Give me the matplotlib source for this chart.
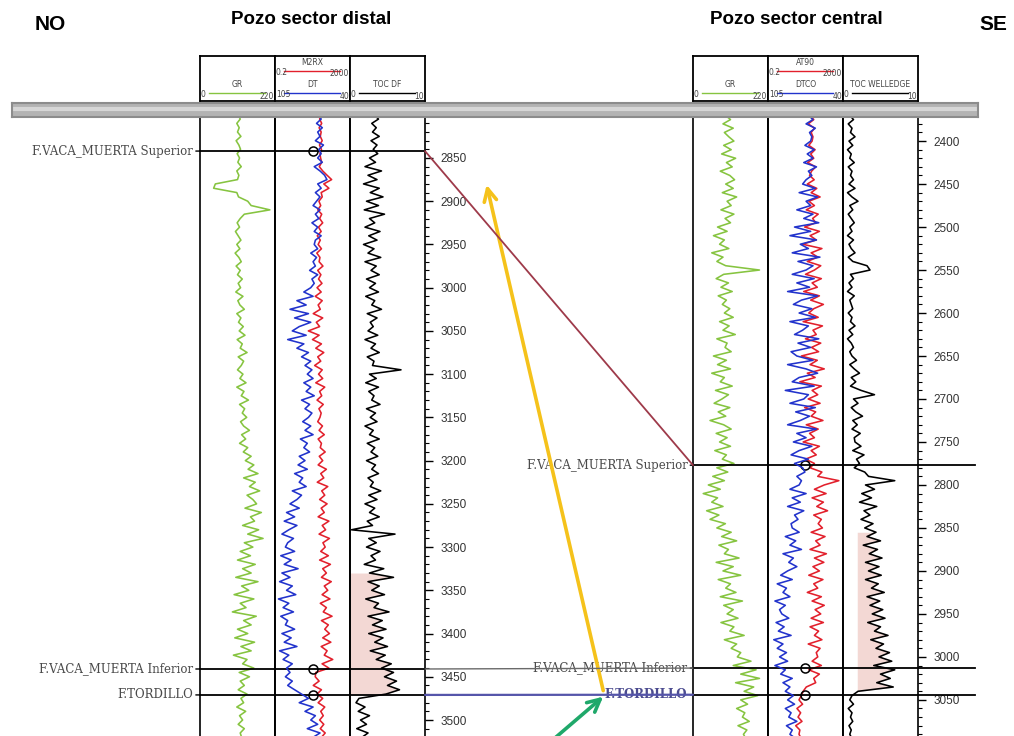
import numpy as np
import matplotlib
matplotlib.use("Agg")
import matplotlib.pyplot as plt
from matplotlib.patches import ConnectionPatch
from matplotlib.ticker import MultipleLocator

# ---- data (5 m sampling) ----
LEFT_TOP = 2800      # first sample depth, distal well
RIGHT_TOP = 2370     # first sample depth, central well
STEP = 5

left_gr = [112, 118, 108, 115, 110, 120, 106, 114, 119, 109,
           116, 111, 121, 108, 114, 110, 45, 40, 108, 113,
           140, 150, 205, 130, 118, 109, 116, 104, 112, 120,
           108, 117, 103, 114, 121, 106, 118, 110, 124, 112,
           119, 105, 126, 111, 117, 130, 108, 120, 113, 127,
           115, 132, 109, 124, 118, 138, 112, 128, 121, 110,
           126, 117, 135, 108, 129, 121, 142, 116, 131, 124,
           137, 119, 128, 145, 122, 134, 116, 140, 127, 150,
           133, 158, 141, 170, 128, 162, 145, 175, 138, 155,
           166, 132, 180, 148, 160, 125, 172, 140, 185, 130,
           155, 118, 148, 110, 162, 125, 150, 105, 170, 122,
           143, 100, 158, 118, 135, 95, 165, 128, 150, 110,
           140, 102, 160, 120, 150, 98, 138, 125, 158, 115,
           145, 118, 130, 112, 138, 120, 128, 108, 134, 116,
           125, 112, 130, 118, 122]

left_res = [55, 48, 62, 45, 58, 52, 66, 47, 60, 50,
            54, 62, 46, 70, 120, 210, 80, 150, 58, 66,
            44, 55, 38, 62, 48, 70, 42, 58, 36, 52,
            40, 60, 34, 50, 45, 72, 38, 56, 42, 64,
            35, 58, 28, 66, 40, 52, 22, 70, 32, 48,
            12, 45, 20, 60, 30, 80, 38, 55, 26, 66,
            42, 70, 30, 90, 48, 62, 35, 75, 44, 58,
            50, 38, 68, 45, 85, 40, 60, 52, 95, 46,
            70, 40, 110, 55, 80, 36, 130, 62, 90, 48,
            120, 58, 85, 40, 150, 66, 100, 45, 160, 72,
            95, 55, 140, 48, 180, 70, 110, 60, 200, 85,
            130, 65, 170, 52, 110, 75, 220, 60, 140, 90,
            160, 70, 190, 58, 120, 85, 240, 65, 150, 30,
            28, 45, 22, 60, 35, 70, 40, 90, 55, 75,
            48, 80, 52, 95, 60]

left_dt = [67, 65, 69, 64, 68, 66, 70, 63, 67, 65,
           68, 64, 71, 66, 62, 60, 68, 65, 70, 66,
           69, 72, 66, 70, 67, 73, 68, 71, 65, 70,
           71, 68, 74, 69, 72, 70, 75, 68, 73, 71,
           74, 80, 72, 86, 78, 92, 76, 88, 74, 84,
           90, 78, 94, 80, 86, 76, 82, 74, 79, 73,
           77, 72, 80, 74, 78, 71, 82, 75, 79, 73,
           76, 81, 74, 79, 72, 83, 77, 80, 75, 84,
           79, 85, 77, 88, 81, 84, 78, 90, 82, 86,
           92, 84, 95, 88, 97, 86, 93, 99, 89, 94,
           96, 88, 100, 91, 97, 85, 99, 92, 101, 90,
           95, 87, 102, 93, 98, 89, 100, 94, 96, 88,
           99, 91, 97, 86, 101, 93, 98, 90, 95, 92,
           96, 90, 94, 88, 82, 76, 84, 72, 79, 70,
           74, 68, 77, 66, 72]

left_toc = [3.2, 3.8, 2.9, 3.5, 3.0, 3.9, 2.8, 3.6, 3.1, 3.7,
            2.6, 3.4, 2.0, 4.2, 2.4, 3.6, 1.8, 3.9, 2.7, 4.4,
            2.2, 3.8, 1.9, 4.6, 2.6, 3.3, 2.0, 4.0, 2.5, 3.6,
            1.8, 3.2, 2.4, 4.1, 2.0, 3.5, 2.8, 3.9, 2.2, 3.4,
            2.6, 3.8, 2.1, 3.3, 2.9, 4.2, 2.3, 3.6, 2.7, 3.1,
            2.4, 3.7, 2.0, 3.4, 2.8, 3.9, 2.3, 3.2, 3.0, 6.8,
            2.6, 3.5, 2.1, 3.8, 2.5, 3.2, 2.9, 4.0, 2.2, 3.4,
            2.7, 3.6, 2.0, 3.1, 2.6, 3.9, 2.3, 3.3, 2.8, 3.7,
            2.2, 3.4, 2.9, 3.8, 2.4, 3.1, 2.7, 4.1, 2.5, 3.6,
            2.0, 3.3, 2.6, 3.9, 2.3, 3.0, 0.2, 6.0, 2.5, 3.5,
            2.2, 4.0, 2.8, 3.4, 1.9, 4.5, 2.6, 5.8, 2.4, 3.9,
            2.9, 4.6, 2.1, 3.8, 3.2, 5.2, 2.4, 4.3, 3.0, 4.8,
            2.5, 4.4, 3.3, 5.0, 2.7, 4.7, 3.5, 5.5, 4.2, 5.8,
            4.6, 6.2, 5.0, 6.6, 4.8, 1.2, 0.8, 2.0, 1.1, 2.6,
            1.4, 2.2, 0.9, 2.4, 1.6]

right_gr = [95, 110, 88, 118, 92, 105,
            120, 90, 112, 84, 125, 98, 115, 80, 108, 122,
            96, 118, 86, 128, 100, 112, 82, 120, 94, 110,
            72, 100, 60, 92, 78, 105, 55, 88, 70, 96,
            195, 90, 68, 104, 82, 115, 74, 98, 86, 108,
            92, 118, 78, 106, 88, 124, 70, 100, 94, 112,
            60, 98, 72, 110, 55, 92, 80, 115, 66, 104,
            85, 62, 108, 74, 96, 50, 90, 112, 68, 100,
            78, 110, 64, 98, 86, 120, 70, 102, 58, 92,
            45, 80, 30, 72, 55, 88, 40, 76, 50, 95,
            70, 112, 84, 128, 76, 104, 92, 135, 68, 118,
            88, 140, 74, 110, 96, 126, 80, 145, 90, 118,
            100, 132, 82, 120, 108, 150, 92, 128, 112, 140,
            130, 170, 118, 185, 140, 195, 125, 178, 150, 190,
            140, 160, 128, 152, 145, 165, 132, 158, 148, 155]

right_res = [35, 55, 28, 60, 40, 50,
             45, 30, 65, 38, 55, 26, 70, 42, 33, 58,
             25, 80, 40, 120, 30, 60, 22, 95, 48, 70,
             18, 110, 35, 75, 14, 150, 40, 90, 25, 130,
             60, 20, 140, 45, 85, 16, 110, 38, 180, 55,
             30, 95, 15, 160, 50, 75, 20, 130, 42, 100,
             12, 85, 35, 200, 25, 65, 10, 140, 45, 90,
             28, 120, 18, 70, 40, 170, 22, 95, 33, 60,
             15, 110, 40, 75, 20, 60, 35, 150, 90, 1200,
             200, 60, 250, 45, 180, 80, 300, 55, 140, 95,
             160, 40, 220, 70, 120, 35, 260, 60, 190, 50,
             110, 30, 170, 55, 90, 25, 140, 45, 200, 65,
             130, 40, 180, 35, 100, 60, 150, 28, 120, 75,
             90, 45, 140, 30, 110, 55, 70, 22, 15, 12,
             9, 14, 7, 11, 8, 13, 6, 10, 9, 12]

right_dt = [70, 66, 72, 64, 69, 67,
            68, 73, 65, 71, 66, 74, 63, 70, 67, 72,
            75, 64, 78, 62, 72, 68, 80, 66, 74, 61,
            82, 68, 86, 63, 77, 70, 84, 60, 79, 66,
            72, 84, 65, 80, 69, 88, 62, 76, 83, 67,
            78, 64, 86, 70, 75, 82, 61, 79, 68, 85,
            80, 66, 88, 72, 62, 78, 84, 65, 90, 70,
            74, 86, 64, 81, 69, 77, 88, 63, 80, 72,
            83, 67, 78, 85, 70, 82, 75, 73, 80, 76,
            78, 86, 72, 84, 77, 88, 74, 82, 79, 85,
            84, 78, 90, 81, 86, 76, 92, 83, 87, 80,
            88, 94, 84, 97, 89, 92, 86, 99, 90, 95,
            93, 87, 98, 91, 96, 85, 100, 92, 97, 89,
            95, 88, 99, 90, 94, 84, 92, 86, 90, 83,
            88, 82, 90, 85, 87, 80, 89, 84, 86, 81]

right_toc = [0.9, 1.4, 0.7, 1.2, 1.0, 1.6,
             0.8, 1.3, 0.6, 1.1, 0.9, 1.5, 0.7, 1.2, 1.0, 1.4,
             0.8, 1.6, 0.6, 1.2, 2.0, 0.9, 1.3, 0.7, 1.1, 1.5,
             0.9, 1.2, 0.6, 1.4, 0.8, 1.1, 1.6, 0.7, 1.3, 3.2,
             3.6, 1.0, 1.4, 0.8, 1.2, 0.6, 1.5, 0.9, 1.1, 1.3,
             0.7, 1.2, 1.0, 1.6, 0.8, 1.3, 0.6, 1.1, 1.4, 0.9,
             1.2, 1.8, 0.9, 1.5, 2.2, 1.1, 1.7, 1.0, 2.4, 4.2,
             1.4, 2.0, 1.1, 1.7, 2.6, 1.3, 1.9, 1.2, 2.3, 1.5,
             1.6, 2.4, 1.3, 2.8, 1.8, 2.2, 1.5, 2.9, 3.4, 6.9,
             3.0, 4.2, 2.5, 3.8, 2.2, 4.5, 2.8, 3.6, 2.4, 4.0,
             2.9, 4.4, 3.2, 5.0, 2.7, 4.6, 3.5, 5.2, 3.0, 4.8,
             3.4, 5.1, 3.0, 4.7, 3.8, 5.5, 3.2, 4.9, 3.6, 5.3,
             3.9, 5.6, 3.3, 5.0, 4.2, 6.0, 3.7, 5.4, 4.4, 6.2,
             4.8, 6.5, 4.1, 6.9, 5.0, 6.3, 4.5, 6.7, 2.0, 1.2,
             0.9, 1.4, 0.7, 1.2, 1.0, 1.3, 0.8, 1.1, 0.9, 1.2]

# formation tops (m)
tops_names = ["F.VACA_MUERTA Superior", "F.VACA_MUERTA Inferior", "F.TORDILLO"]
left_tops = [2842, 3441, 3471]
right_tops = [2777, 3013, 3044]

left_headers = ["GR", "M2RX", "DT", "TOC DF"]
right_headers = ["GR", "AT90", "DTCO", "TOC WELLEDGE"]

W, H = 1014, 736
fig = plt.figure(figsize=(W / 100, H / 100), dpi=100)

GREEN = "#86c440"
RED = "#e2202c"
BLUE = "#2233cc"
PINK = "#f3d8d4"
LABEL_GREY = "#4a4a4a"
LW = 1.15


def px_axes(x0, y0, x1, y1):
    return fig.add_axes([x0 / W, 1 - y1 / H, (x1 - x0) / W, (y1 - y0) / H])


def depth_of(top, vals):
    return top + STEP * np.arange(len(vals))


def header(ax, rows):
    # rows: (name, lo, hi, color, y)
    ax.set_xlim(0, 1)
    ax.set_ylim(0, 1)
    ax.set_xticks([])
    ax.set_yticks([])
    for s in ax.spines.values():
        s.set_linewidth(1.3)
    for name, lo, hi, col, y in rows:
        ax.text(0.5, y + 0.2, name, fontsize=5.5, ha="center", va="center",
                color="#444444", clip_on=True)
        ax.plot([0.12, 0.86], [y, y], color=col, lw=1.0)
        ax.text(0.01, y - 0.02, lo, fontsize=5.5, ha="left", va="center", color="#444444")
        ax.text(0.99, y - 0.06, hi, fontsize=5.5, ha="right", va="center", color="#444444")


def build_well(x0, ylim, gr, res, dt, toc, top, tops, hdr, pink_range, pink_base,
               circle_x, line_ext):
    tracks = []
    for i in range(3):
        ax = px_axes(x0 + 75 * i, 117, x0 + 75 * (i + 1), 736)
        ax.set_ylim(*ylim)
        ax.set_xticks([])
        ax.set_yticks([])
        ax.spines["bottom"].set_visible(False)
        for s in ax.spines.values():
            s.set_linewidth(1.2)
        tracks.append(ax)
    t1, t2, t3 = tracks

    t1.set_xlim(0, 220)
    t1.plot(gr, depth_of(top, gr), color=GREEN, lw=LW)

    t2.set_xscale("log")
    t2.set_xlim(0.2, 2000)
    t2.plot(res, depth_of(top, res), color=RED, lw=LW)
    t2.tick_params(axis="x", which="both", bottom=False, top=False,
                   labelbottom=False, labeltop=False)
    tw = t2.twiny()
    tw.set_xlim(105, 40)
    tw.plot(dt, depth_of(top, dt), color=BLUE, lw=LW)
    tw.set_xticks([])
    tw.spines["bottom"].set_visible(False)
    for s in tw.spines.values():
        s.set_linewidth(1.2)

    t3.set_xlim(0, 10)
    d_toc = depth_of(top, toc)
    toc_arr = np.array(toc)
    sel = (d_toc >= pink_range[0]) & (d_toc <= pink_range[1])
    t3.fill_betweenx(d_toc, pink_base, toc_arr, where=sel & (toc_arr > pink_base),
                     color=PINK, lw=0)
    t3.plot(toc, d_toc, color="black", lw=LW)

    t3.yaxis.tick_right()
    t3.yaxis.set_major_locator(MultipleLocator(50))
    t3.yaxis.set_minor_locator(MultipleLocator(10))
    t3.tick_params(axis="y", which="major", length=6, width=1, pad=5,
                   labelsize=8.5, labelcolor="#333333")
    t3.tick_params(axis="y", which="minor", length=3, width=0.8)
    for lab in t3.get_yticklabels():
        lab.set_family("Liberation Sans")

    for k, d in enumerate(tops):
        for ax in tracks:
            ext = line_ext[k] if ax is t3 else 1
            ax.axhline(d, xmax=ext, color="black", lw=1.3, clip_on=False)
        t2.plot(circle_x, d, marker="o", ms=6.5, mfc="none", mec="black", mew=1.1,
                transform=t2.get_yaxis_transform())

    # header boxes
    h = [px_axes(x0 + 75 * i, 56, x0 + 75 * (i + 1), 101) for i in range(3)]
    header(h[0], [(hdr[0], "0", "220", GREEN, 0.17)])
    header(h[1], [(hdr[1], "0.2", "2000", RED, 0.66), (hdr[2], "105", "40", BLUE, 0.17)])
    header(h[2], [(hdr[3], "0", "10", "black", 0.17)])
    return tracks


L = build_well(200, (3518.5, 2802.6), left_gr, left_res, left_dt, left_toc, LEFT_TOP,
               left_tops, left_headers, (3330, 3471), 0.0, 0.507, [1, 1, 1])
R = build_well(693, (3092, 2372), right_gr, right_res, right_dt, right_toc, RIGHT_TOP,
               right_tops, right_headers, (2855, 3044), 1.9, 0.493, [1.76, 1.76, 1.76])

# formation labels
for k, name in enumerate(tops_names):
    L[0].annotate(name, xy=(0, left_tops[k]), xycoords=L[0].get_yaxis_transform(),
                  xytext=(-5, 0), textcoords="offset points", ha="right", va="center",
                  fontsize=8.5, family="DejaVu Serif", color=LABEL_GREY,
                  arrowprops=dict(arrowstyle="-", color="black", lw=1.0,
                                  shrinkA=0, shrinkB=0))
    col = "#4b4b8f" if k == 2 else LABEL_GREY
    R[0].annotate(name, xy=(0, right_tops[k]), xycoords=R[0].get_yaxis_transform(),
                  xytext=(-4, 0), textcoords="offset points", ha="right", va="center",
                  fontsize=8.5, family="DejaVu Serif", color=col,
                  fontweight="bold" if k == 2 else "normal",
                  arrowprops=dict(arrowstyle="-", color="black", lw=1.0,
                                  shrinkA=0, shrinkB=0))

# correlation lines between the wells
corr_colors = ["#9e3a4a", "#6a6a6a", "#5555aa"]
corr_widths = [1.3, 1.0, 1.6]
for k in range(3):
    con = ConnectionPatch(xyA=(1, left_tops[k]), coordsA=L[2].get_yaxis_transform(),
                          xyB=(0, right_tops[k]), coordsB=R[0].get_yaxis_transform(),
                          color=corr_colors[k], lw=corr_widths[k], zorder=1)
    fig.add_artist(con)

# arrows in the gap between the wells (left-well depth scale)
mid = px_axes(425, 117, 693, 736)
mid.set_xlim(0, 1)
mid.set_ylim(3518.5, 2802.6)
mid.axis("off")
mid.annotate("", xy=(0.23, 2881), xytext=(0.665, 3466),
             arrowprops=dict(arrowstyle="->,head_length=0.9,head_width=0.45",
                             color="#f5c21b", lw=2.6, shrinkA=0, shrinkB=0))
mid.annotate("", xy=(0.665, 3473), xytext=(0.39, 3546), annotation_clip=False,
             arrowprops=dict(arrowstyle="->,head_length=0.9,head_width=0.45",
                             color="#1fa86a", lw=2.6, shrinkA=0, shrinkB=0))

# grey double bar under the headers
bar = px_axes(12, 103, 978, 117)
bar.set_facecolor("#b3b3b3")
bar.set_xticks([])
bar.set_yticks([])
bar.set_ylim(0, 1)
bar.axhline(0.55, color="#d6d6d6", lw=3)
for s in bar.spines.values():
    s.set_color("#8c8c8c")
    s.set_linewidth(1.5)

# titles
tfam = ["Liberation Sans Narrow", "Liberation Sans"]
fig.text(50 / W, 1 - 25 / H, "NO", fontsize=15, fontweight="bold", ha="center",
         va="center", family=tfam)
fig.text(993 / W, 1 - 25 / H, "SE", fontsize=15, fontweight="bold", ha="center",
         va="center", family=tfam)
fig.text(311 / W, 1 - 20 / H, "Pozo sector distal", fontsize=13.5, fontweight="bold",
         ha="center", va="center", family=tfam)
fig.text(796 / W, 1 - 20 / H, "Pozo sector central", fontsize=13.5, fontweight="bold",
         ha="center", va="center", family=tfam)

fig.savefig("out.png", dpi=100)
